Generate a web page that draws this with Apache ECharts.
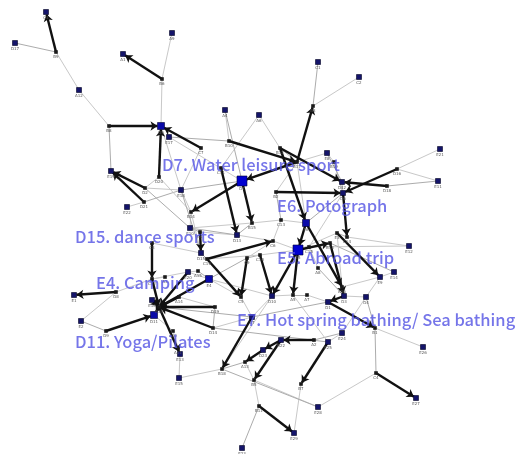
<!DOCTYPE html>
<html>
<head>
<meta charset="utf-8">
<script src="https://cdn.jsdelivr.net/npm/echarts@6/dist/echarts.min.js"></script>
<style>
  html, body { margin: 0; padding: 0; background: #ffffff; }
  #chart { width: 516px; height: 454px; }
</style>
</head>
<body>
<div id="chart"></div>
<script>
// Leisure-activity network: node codes, layout coordinates and node class
const nodeCodes = ['C3','D17','B9','A12','B8','D5','A1','B6','A9','E17','C7','A4','B10','A6','C1','C2','B3','B12','E21','D7',
  'E18','D20','D2','C11','E19','D21','E22','B14','E10','B4','D13','B15','C8','D15','E20','E4','E1','D8','C12','E8',
  'B17','D12','D6','D16','E11','D18','B2','C13','E6','E5','C6','E3','C14','E12','E14','E9','C9','C10','B13','C15',
  'D10','A5','A7','D3','D4','C5','A8','E2','D9','D11','E16','B16','A14','D19','D14','A10','A11','E13','B18','E15',
  'A13','B5','E23','E7','D1','B1','E24','E25','D22','A2','D23','B7','C4','E26','E27','E28','B11','E29','A15','C16',
  'A3','A16','B19'];
const nodeX = [46,15,56,79,109,161,123,162,172,169,201,225,229,259,318,359,313,280,440,242,
  181,159,145,221,111,144,127,191,190,200,237,252,152,201,188,209,74,116,152,327,
  297,342,343,397,438,387,276,281,306,298,273,337,347,409,394,380,247,260,330,309,
  272,293,307,344,366,241,318,81,106,154,152,159,179,215,213,173,178,180,222,179,
  245,254,242,252,328,375,342,328,281,314,263,301,376,423,416,318,259,294,198,207,
  165,342,334];
const nodeY = [12,43,52,90,126,126,54,79,33,137,148,110,141,115,62,77,106,148,149,181,
  190,177,188,168,171,202,207,212,228,232,235,223,243,253,272,279,295,292,279,153,
  162,182,193,169,181,186,192,220,223,250,241,233,237,246,272,277,258,255,243,247,
  296,295,295,296,297,297,268,321,331,315,300,307,297,307,328,331,348,354,369,378,
  362,380,448,317,302,328,333,342,340,340,350,384,373,347,398,407,406,433,271,259,
  277,287,162];
// 0 = connector dot, 1 = activity node, 2 = key activity, 3 = hub activity
const nodeKind = [1,1,0,1,0,2,1,0,1,1,0,1,0,1,1,1,0,0,1,3,
  1,0,0,0,1,0,1,0,1,0,1,0,0,1,1,2,1,0,0,1,
  0,1,1,0,1,0,0,0,2,3,0,0,0,1,1,1,0,0,0,0,
  1,0,0,1,1,0,0,1,0,2,1,0,0,0,0,0,0,1,0,1,
  0,0,1,1,1,0,1,1,1,0,1,0,0,1,1,1,0,1,0,0,
  0,0,0];

// Strong ties (directed, drawn heavy with an arrow at the target)
const strongLinks = [
  ['B9','C3'],['B6','A1'],['B8','D5'],['D20','D5'],['C7','D5'],['B10','B17'],['B17','B3'],['B17','D7'],
  ['B12','D12'],['D7','B14'],['C11','D13'],['D7','B15'],['B2','D6'],['D16','D6'],['D18','D12'],['D6','C14'],
  ['B12','E6'],['E6','E5'],['E5','B13'],['E5','D10'],['E5','A5'],['E3','E9'],['B13','D3'],['C8','C12'],
  ['C12','B16'],['E16','B16'],['B16','D11'],['A14','B16'],['D19','B16'],['D14','B16'],['B16','E13'],['E4','B16'],
  ['E20','B16'],['B4','D15'],['C16','C6'],['C16','C5'],['D9','D11'],['D8','E1'],['A2','D22'],['D22','D23'],
  ['D23','A13'],['D22','B5'],['E25','B7'],['C4','E27'],['B11','E29'],['E7','B18'],['D2','E19'],['D21','E19'],
  ['D1','B1'],['D3','D1'],['C9','C5'],['C10','D10'],['E6','A16']
];
// Weak ties (undirected, thin grey)
const weakLinks = [
  ['D17','B9'],['B9','A12'],['A12','B8'],['B8','E19'],['B6','A9'],['B6','D5'],['E17','B10'],['A4','B10'],
  ['A6','C11'],['C1','B3'],['C2','B3'],['E21','D16'],['E11','D18'],['D16','E11'],['E8','B17'],['E8','D12'],
  ['B17','B2'],['B19','E8'],['B19','D6'],['D20','D2'],['D2','E18'],['D21','E18'],['E22','D21'],['C7','E18'],
  ['E18','D7'],['E18','B14'],['B14','E10'],['E10','B4'],['E10','B15'],['B4','D13'],['D13','B15'],['B15','C13'],
  ['C13','E6'],['C13','B2'],['C6','C13'],['C6','C9'],['C9','C10'],['C10','E5'],['E5','E3'],['E3','C14'],
  ['C14','E12'],['C15','E12'],['B13','E14'],['E14','E9'],['E9','D4'],['D4','B1'],['D3','D4'],['C8','D15'],
  ['D15','C16'],['E20','E4'],['E20','A15'],['A15','E4'],['A3','C12'],['C12','E20'],['E4','C9'],['E4','C5'],
  ['D10','A5'],['A5','A7'],['A7','D1'],['D10','E7'],['E7','D1'],['C5','E7'],['A14','D19'],['D19','D14'],
  ['D14','E7'],['A10','A11'],['A11','E13'],['E13','E15'],['E15','B18'],['B18','A13'],['A13','B5'],['B5','B11'],
  ['B11','E23'],['B5','E28'],['E28','C4'],['C4','B1'],['B1','E26'],['B7','E29'],['A2','E24'],['E24','D4'],
  ['E2','D8'],['E2','D9'],['D8','C12'],['D11','A10'],['D6','E6'],['D6','C15'],['D12','D6'],['B18','E28'],
  ['D7','E17'],['D20','B14'],['D2','E10'],['D5','E18'],['A6','B12'],['A4','D7'],['D13','C6'],['C6','E5'],
  ['B12','B17'],['B17','E6'],['A8','C15'],['A8','D3'],['E3','A16'],['A16','E9'],['E10','D13'],['C16','C10'],
  ['E4','D10'],['D15','E18'],['B14','D15'],['D10','B18'],['B16','E7'],['E25','E24'],['A5','E25'],['D14','E25']
];

// Named activities highlighted on the map
const featuredCodes = ['D7','E6','D15','E4','E5','E7','D11'];
const featuredNames = ['D7. Water leisure sport','E6. Potograph','D15. dance sports','E4. Camping',
  'E5. Abroad trip','E7. Hot spring bathing/ Sea bathing','D11. Yoga/Pilates'];

// Label placement relative to each featured node (style only)
const featuredOffset = {
  'D7': [-80, -16], 'E6': [-29, -17], 'D15': [-126, -16], 'E4': [-113, 4],
  'E5': [-21, 8], 'E7': [-15, 3], 'D11': [-79, 27]
};

const kindStyle = [
  { size: 3, color: '#1a1a1a', border: '#1a1a1a' },
  { size: 5, color: '#14146a', border: '#000022' },
  { size: 7, color: '#0a0aa8', border: '#000033' },
  { size: 10, color: '#0000d0', border: '#000033' }
];

const idx = {};
nodeCodes.forEach((c, i) => { idx[c] = i; });

const graphData = nodeCodes.map((c, i) => {
  const st = kindStyle[nodeKind[i]];
  return {
    name: c,
    value: [nodeX[i], nodeY[i]],
    symbol: 'rect',
    symbolSize: st.size,
    itemStyle: { color: st.color, borderColor: st.border, borderWidth: 0.6 }
  };
});

const graphLinks = [];
weakLinks.forEach(([s, t], k) => {
  graphLinks.push({
    source: idx[s], target: idx[t],
    symbol: ['none', 'none'],
    lineStyle: { color: k % 3 === 0 ? '#acacac' : '#c8c8c8', width: 1, opacity: 1, curveness: 0 }
  });
});
strongLinks.forEach(([s, t]) => {
  graphLinks.push({
    source: idx[s], target: idx[t],
    symbol: ['none', 'arrow'],
    symbolSize: [0, 7],
    lineStyle: { color: '#111111', width: 2.4, opacity: 1, curveness: 0 }
  });
});

const featuredData = featuredCodes.map((c, i) => ({
  name: featuredNames[i],
  value: [nodeX[idx[c]], nodeY[idx[c]]],
  label: { offset: featuredOffset[c] }
}));

const chart = echarts.init(document.getElementById('chart'), null, { renderer: 'canvas' });
chart.setOption({
  backgroundColor: '#ffffff',
  animation: false,
  grid: { left: 0, right: 0, top: 0, bottom: 0 },
  xAxis: { type: 'value', min: 0, max: 516, show: false, splitLine: { show: false } },
  yAxis: { type: 'value', min: 0, max: 454, inverse: true, show: false, splitLine: { show: false } },
  series: [
    {
      type: 'graph',
      coordinateSystem: 'cartesian2d',
      layout: 'none',
      data: graphData,
      links: graphLinks,
      edgeSymbol: ['none', 'none'],
      label: {
        show: true,
        position: 'bottom',
        distance: 1,
        fontSize: 4,
        color: '#555555',
        fontFamily: 'DejaVu Sans'
      },
      emphasis: { disabled: true },
      z: 2
    },
    {
      type: 'scatter',
      data: featuredData,
      symbolSize: 0,
      silent: true,
      z: 10,
      label: {
        show: true,
        position: 'inside',
        align: 'left',
        verticalAlign: 'middle',
        formatter: p => p.name,
        fontFamily: 'Noto Sans CJK KR',
        fontSize: 16.5,
        fontWeight: 500,
        color: '#5252e4'
      }
    }
  ]
});
</script>
</body>
</html>
